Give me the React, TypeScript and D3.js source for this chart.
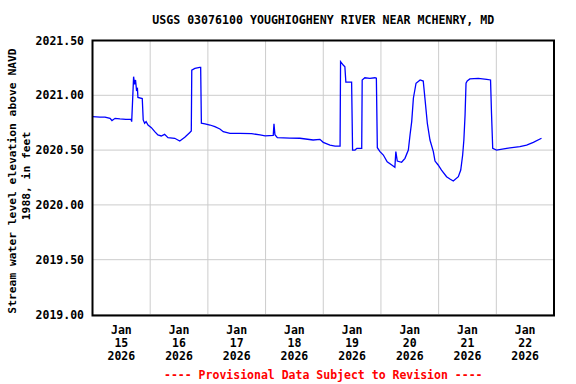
import React, { useEffect } from 'react';
import * as d3 from 'd3';

// USGS 03076100 Youghiogheny River near McHenry, MD  (provisional)
const stationTitle = 'USGS 03076100 YOUGHIOGHENY RIVER NEAR MCHENRY, MD';
const yLabelLines = ['Stream water level elevation above NAVD', '1988, in feet'];
const footerText = '---- Provisional Data Subject to Revision ----';

const startDate = new Date(2026, 0, 15);
const endDate = new Date(2026, 0, 23);
const dayLabels = ['15', '16', '17', '18', '19', '20', '21', '22'];
const yTicks = [2019.0, 2019.5, 2020.0, 2020.5, 2021.0, 2021.5];

// hours since Jan 15 00:00 and water level (ft)
const obsHours = [
  0, 3.1, 5.2, 7.3, 8.1, 9.4, 11.4, 13.9, 16.0, 16.3, 16.6, 17.1, 17.5, 17.9, 18.3, 18.7, 18.9,
  20.7, 21.1, 21.7, 22.3, 23.1, 24.5, 25.9, 27.2, 28.6, 30.0, 31.4, 34.2, 36.3, 38.4, 40.4, 41.1,
  41.3, 42.6, 44.6, 45.0, 45.3, 46.8, 48.9, 50.9, 53.0, 54.4, 57.2, 61.3, 66.2, 69.7, 71.8, 75.2,
  75.5, 75.9, 76.9, 82.1, 86.3, 91.8, 94.6, 96.0, 98.8, 100.9, 103.0, 103.2, 104.3, 105.0, 105.4,
  107.8, 108.2, 109.2, 110.0, 112.0, 112.2, 113.3, 115.4, 117.5, 118.1, 118.5, 119.6, 121.0, 122.6,
  124.5, 125.8, 126.2, 126.8, 128.6, 130.0, 131.4, 132.1, 132.8, 133.5, 134.6, 136.3, 137.6, 138.3,
  139.3, 140.4, 141.8, 142.5, 143.8, 145.2, 147.3, 148.7, 150.1, 152.2, 153.2, 154.0, 154.5, 155.0,
  155.4, 155.9, 157.0, 160.5, 164.0, 165.6, 166.0, 166.5, 168.1, 172.3, 177.8, 180.6, 183.4, 186.8,
];
const levels = [
  2020.805, 2020.80, 2020.80, 2020.79, 2020.77, 2020.79, 2020.785, 2020.78, 2020.78, 2020.76, 2020.91,
  2021.17, 2021.10, 2021.14, 2021.05, 2021.06, 2020.98,
  2020.97, 2020.775, 2020.745, 2020.76, 2020.729, 2020.705, 2020.668, 2020.638, 2020.629, 2020.644,
  2020.613, 2020.608, 2020.583, 2020.617, 2020.659, 2020.674,
  2021.23, 2021.245, 2021.255, 2021.255, 2020.745, 2020.74, 2020.729, 2020.714, 2020.693, 2020.668,
  2020.653, 2020.652, 2020.650, 2020.638, 2020.629, 2020.635,
  2020.74, 2020.64, 2020.613, 2020.61, 2020.608, 2020.592, 2020.598, 2020.571, 2020.545, 2020.537,
  2020.537, 2021.307, 2021.276, 2021.26, 2021.12,
  2021.12, 2020.50, 2020.50, 2020.516, 2020.516, 2021.14, 2021.16, 2021.155, 2021.16, 2021.155,
  2020.522, 2020.486, 2020.455, 2020.394,
  2020.364, 2020.343, 2020.486, 2020.40, 2020.389, 2020.425, 2020.50, 2020.638, 2020.76, 2020.973,
  2021.11, 2021.14, 2021.13, 2020.973,
  2020.745, 2020.592, 2020.486, 2020.40, 2020.364, 2020.318, 2020.257, 2020.236, 2020.218, 2020.257,
  2020.318, 2020.455, 2020.592, 2020.82,
  2021.11, 2021.13, 2021.149, 2021.155, 2021.146, 2021.14, 2020.836, 2020.516, 2020.50, 2020.516,
  2020.531, 2020.546, 2020.571, 2020.608,
];

const W = 576;
const H = 384;
const left = 92.5;
const right = 554;
const top = 40.5;
const bottom = 314.5;
const font = '"DejaVu Sans Mono", monospace';

export default function App() {
  useEffect(() => {
    document.body.style.margin = '0';
  }, []);

  const x = d3.scaleTime().domain([startDate, endDate]).range([left, right]);
  const y = d3.scaleLinear().domain([2019, 2021.5]).range([bottom, top]);

  const points = obsHours.map((h, i) => ({
    t: new Date(startDate.getTime() + h * 3600e3),
    v: levels[i],
  }));
  const line = d3
    .line<{ t: Date; v: number }>()
    .x((d) => x(d.t))
    .y((d) => y(d.v));

  const days = d3.timeDay.range(startDate, endDate);

  return (
    <svg width={W} height={H} style={{ display: 'block', background: '#fff' }}>
      <rect x={0} y={0} width={W} height={H} fill="#fff" />
      <text x={(left + right) / 2} y={24} textAnchor="middle" fontFamily={font} fontWeight="bold" fontSize={11.6}>
        {stationTitle}
      </text>

      {/* grid */}
      {days.slice(1).map((d, i) => (
        <line key={'vg' + i} x1={x(d)} x2={x(d)} y1={top} y2={bottom} stroke="#cccccc" strokeWidth={1} />
      ))}
      {yTicks.map((t) => (
        <line key={'hg' + t} x1={left} x2={right} y1={y(t)} y2={y(t)} stroke="#cccccc" strokeWidth={1} />
      ))}

      <path d={line(points) ?? ''} fill="none" stroke="#0000ff" strokeWidth={1.3} />

      <rect x={left} y={top} width={right - left} height={bottom - top + 1} fill="none" stroke="#000" strokeWidth={2} />

      {/* y ticks */}
      {yTicks.map((t) => (
        <text key={'yt' + t} x={84} y={y(t)} dy="0.35em" textAnchor="end" fontFamily={font} fontWeight="bold" fontSize={11.5}>
          {t.toFixed(2)}
        </text>
      ))}

      {/* x ticks */}
      {days.map((d, i) => {
        const cx = x(d3.timeHour.offset(d, 12));
        return (
          <text key={'xt' + i} x={cx} textAnchor="middle" fontFamily={font} fontWeight="bold" fontSize={11.5}>
            <tspan x={cx} y={334}>Jan</tspan>
            <tspan x={cx} y={347}>{dayLabels[i]}</tspan>
            <tspan x={cx} y={360}>2026</tspan>
          </text>
        );
      })}

      {/* y label */}
      <text transform={`translate(12,181) rotate(-90)`} textAnchor="middle" dy="0.35em" fontFamily={font} fontWeight="bold" fontSize={11.3}>
        {yLabelLines[0]}
      </text>
      <text transform={`translate(26,176) rotate(-90)`} textAnchor="middle" dy="0.35em" fontFamily={font} fontWeight="bold" fontSize={11.3}>
        {yLabelLines[1]}
      </text>

      <text x={(left + right) / 2} y={379} textAnchor="middle" fontFamily={font} fontWeight="bold" fontSize={11.5} fill="#ff0000">
        {footerText}
      </text>
    </svg>
  );
}
